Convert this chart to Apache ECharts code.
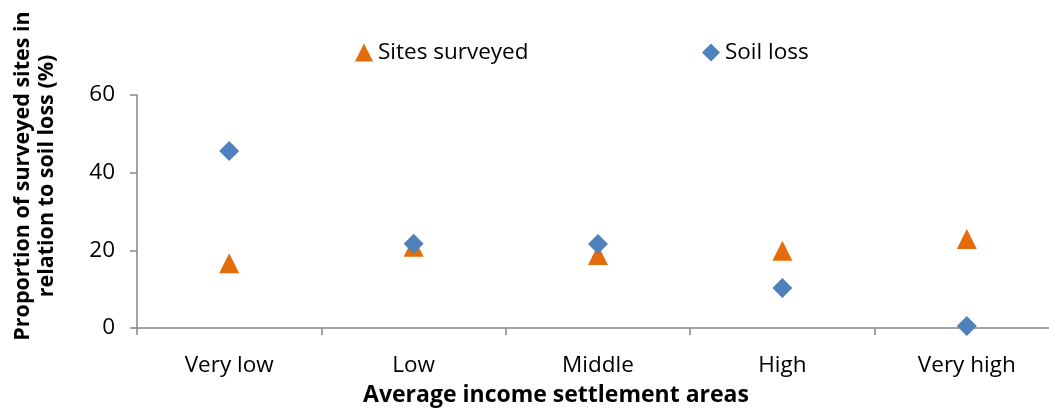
<!DOCTYPE html>
<html>
<head>
<meta charset="utf-8">
<script src="https://cdn.jsdelivr.net/npm/echarts@6/dist/echarts.min.js"></script>
<style>
html,body{margin:0;padding:0;background:#fff;overflow:hidden;}
#chart{width:1070px;height:411px;}
</style>
</head>
<body>
<div id="chart"></div>
<script>
var categories = ['Very low', 'Low', 'Middle', 'High', 'Very high'];
var sitesSurveyed = [16.7, 20.9, 18.8, 19.9, 22.9];
var soilLoss = [45.6, 21.7, 21.6, 10.3, 0.5];
var yTicks = {min: 0, max: 60, interval: 20};
var seriesNames = ['Sites surveyed', 'Soil loss'];
var xTitle = 'Average income settlement areas';
var yTitle = 'Proportion of surveyed sites in\nrelation to soil loss (%)';

var FONT = 'Open Sans';
var FS = 22.5;
var chart = echarts.init(document.getElementById('chart'));
chart.setOption({
  animation: false,
  backgroundColor: '#ffffff',
  textStyle: {fontFamily: FONT},
  grid: {left: 137, right: 11, top: 95, bottom: 83},
  legend: [
    {data: [{name: seriesNames[0], icon: 'triangle'}], left: 350, top: 36, itemWidth: 18, itemHeight: 18,
     textStyle: {fontFamily: FONT, fontSize: FS, color: '#000'}},
    {data: [{name: seriesNames[1], icon: 'diamond'}], left: 697, top: 36, itemWidth: 18, itemHeight: 18,
     textStyle: {fontFamily: FONT, fontSize: FS, color: '#000'}}
  ],
  xAxis: {
    type: 'category',
    data: categories,
    boundaryGap: true,
    axisLine: {show: true, lineStyle: {color: '#868686', width: 1.5}},
    axisTick: {show: true, length: 7, lineStyle: {color: '#868686', width: 1.5}},
    axisLabel: {fontFamily: FONT, fontSize: FS, color: '#000', margin: 26},
    splitLine: {show: false}
  },
  yAxis: {
    type: 'value',
    min: yTicks.min, max: yTicks.max, interval: yTicks.interval,
    axisLine: {show: true, lineStyle: {color: '#868686', width: 1.5}},
    axisTick: {show: true, length: 7, lineStyle: {color: '#868686', width: 1.5}},
    axisLabel: {fontFamily: FONT, fontSize: FS, color: '#000', margin: 22},
    splitLine: {show: false}
  },
  graphic: [{
    type: 'text',
    x: 35, y: 176,
    rotation: Math.PI / 2,
    style: {
      text: yTitle,
      fontFamily: FONT, fontSize: 21.5, fontWeight: 'bold', fill: '#000',
      align: 'center', verticalAlign: 'middle', lineHeight: 24
    }
  }, {
    type: 'text',
    x: 556, y: 395,
    style: {
      text: xTitle,
      fontFamily: FONT, fontSize: 23, fontWeight: 'bold', fill: '#000',
      align: 'center', verticalAlign: 'middle'
    }
  }],
  series: [
    {name: seriesNames[0], type: 'scatter', data: sitesSurveyed, symbol: 'triangle', symbolSize: 20,
     itemStyle: {color: '#E46C0A', opacity: 1}},
    {name: seriesNames[1], type: 'scatter', data: soilLoss, symbol: 'diamond', symbolSize: 20,
     itemStyle: {color: '#4F81BD', opacity: 1}}
  ]
});
</script>
</body>
</html>
